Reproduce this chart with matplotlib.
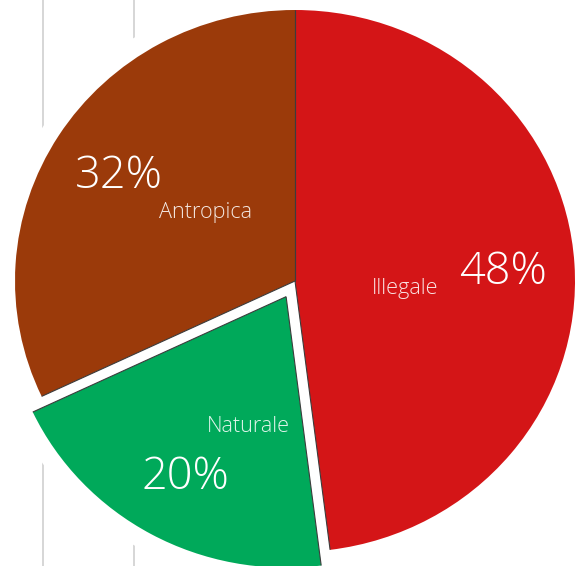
import matplotlib.pyplot as plt
import numpy as np

plt.rcParams['font.family'] = ['Open Sans', 'DejaVu Sans']

# Share of cases by cause
categories = ['Illegale', 'Naturale', 'Antropica']
shares = [48, 20, 32]
colors = ['#d41517', '#00a95a', '#9b3a0a']
explode = [0, 0.066, 0]

# where the category names sit (data units of the pie)
name_pos = [(0.393, -0.029), (-0.168, -0.537), (-0.318, 0.251)]

fig = plt.figure(figsize=(5.85, 5.66), dpi=100)
ax = fig.add_axes([0, 0, 1, 1])

# faint vertical rules in the background
for xv in [-0.9, -0.575]:
    ax.axvline(xv, color='#cfcfcf', lw=1.2, zorder=0)

# white halo around the slices
ax.pie(shares, colors=['white'] * 3, explode=explode, startangle=90,
       counterclock=False,
       wedgeprops=dict(edgecolor='white', linewidth=26, joinstyle='round', zorder=1))

wedges, _ = ax.pie(shares, colors=colors, explode=explode, startangle=90,
                   counterclock=False,
                   wedgeprops=dict(linewidth=0, zorder=2))

for w, name, pct, npos in zip(wedges, categories, shares, name_pos):
    cx, cy = w.center
    # thin dark line along the straight edges only
    for th in (w.theta1, w.theta2):
        t = np.deg2rad(th)
        ax.plot([cx, cx + w.r * np.cos(t)], [cy, cy + w.r * np.sin(t)],
                color='#3c3c3c', lw=0.8, zorder=3, solid_capstyle='butt')
    mid = np.deg2rad((w.theta1 + w.theta2) / 2)
    ax.text(cx + 0.745 * np.cos(mid), cy + 0.745 * np.sin(mid) - 0.016, f'{pct}%',
            color='white', fontsize=32.5, fontweight='light',
            ha='center', va='center', zorder=4)
    ax.text(npos[0], npos[1], name, color='white', alpha=0.88, fontsize=15.6,
            fontweight='light', ha='center', va='center', zorder=4)

ax.set_xlim(-1.0536, 1.0357)
ax.set_ylim(-1.0517, 1.0369)
ax.set_aspect('auto')
ax.axis('off')

plt.savefig('out.png', dpi=100)
